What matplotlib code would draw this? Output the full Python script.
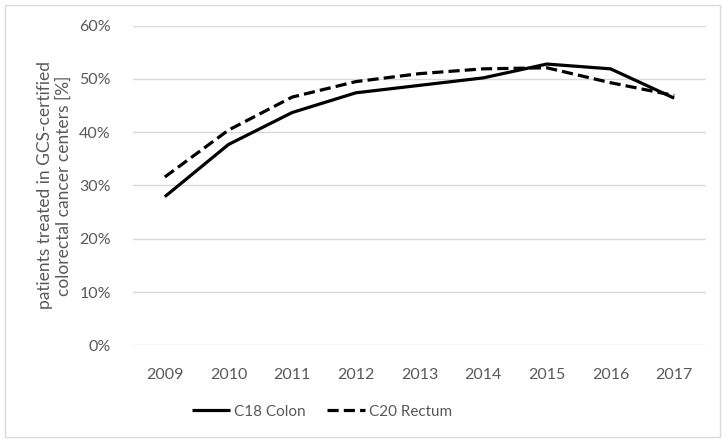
import matplotlib
matplotlib.use("Agg")
import matplotlib.pyplot as plt
from matplotlib.patches import Rectangle

# 연도와 각 계열의 값 (%)
years = ["2009", "2010", "2011", "2012", "2013", "2014", "2015", "2016", "2017"]
colon = [27.9, 37.7, 43.7, 47.4, 48.8, 50.2, 52.8, 51.9, 46.4]
rectum = [31.6, 40.4, 46.6, 49.5, 51.0, 51.9, 52.1, 49.3, 46.9]
y_ticks = [0, 10, 20, 30, 40, 50, 60]

plt.rcParams['font.family'] = ['Lato', 'DejaVu Sans']
grey = "#595959"

fig = plt.figure(figsize=(7.28, 4.42), dpi=100)
ax = fig.add_axes([133/728, 1-345.3/442, 573/728, 319.6/442])

x = range(len(years))
ax.plot(x, colon, color="black", lw=2.3, label="C18 Colon", solid_capstyle="butt")
ax.plot(x, rectum, color="black", lw=2.3, ls=(0, (3.5, 1.6)), label="C20 Rectum")

ax.set_xlim(-0.5, len(years) - 0.5)
ax.set_ylim(0, 60)
ax.set_yticks(y_ticks)
ax.set_yticklabels([f"{v}%" for v in y_ticks])
ax.set_xticks(list(x))
ax.set_xticklabels(years)
ax.grid(axis="y", color="#d9d9d9", lw=1)
ax.set_axisbelow(True)
for s in ax.spines.values():
    s.set_visible(False)
ax.tick_params(length=0, colors=grey, labelsize=11.5)
ax.tick_params(axis="y", pad=16)
ax.tick_params(axis="x", pad=16)

ax.set_ylabel("patients treated in GCS-certified\ncolorectal cancer centers [%]",
              color=grey, fontsize=12.5, linespacing=1.2)
ax.yaxis.set_label_coords(-0.106, 0.5)

fig.legend(loc="center", bbox_to_anchor=(322/728, 1-411.7/442), ncol=2, frameon=False,
           fontsize=11, handlelength=2.5, handletextpad=0.25, columnspacing=1.4,
           labelcolor=grey)

# 차트 영역 테두리
fig.patches.append(Rectangle((5/728, 5/442), 715/728, 432/442, transform=fig.transFigure,
                             fill=False, edgecolor="#d9d9d9", lw=1))

fig.savefig("out.png", dpi=100)
